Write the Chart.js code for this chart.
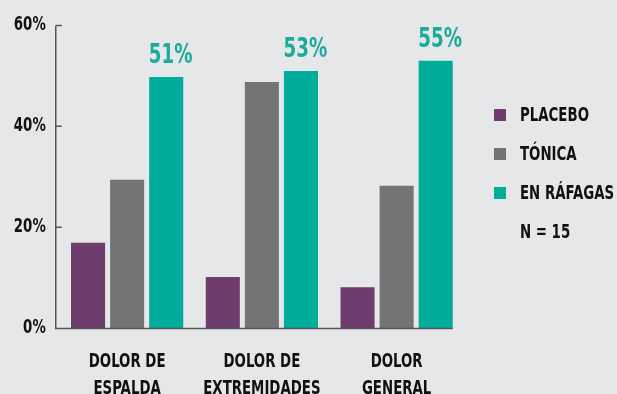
<!DOCTYPE html>
<html>
<head>
<meta charset="utf-8">
<script src="https://cdn.jsdelivr.net/npm/chart.js@4"></script>
<style>
    html, body { margin: 0; padding: 0; background: #e6e7e9; }
    #wrap { width: 617px; height: 394px; }
</style>
</head>
<body>
<div id="wrap"><canvas id="pain-chart"></canvas></div>
<script>
    'use strict';

    var categories = [
        ['DOLOR DE', 'ESPALDA'],
        ['DOLOR DE', 'EXTREMIDADES'],
        ['DOLOR', 'GENERAL'],
    ];
    var seriesNames = ['PLACEBO', 'TÓNICA', 'EN RÁFAGAS'];
    var dataPlacebo = [16.9, 10.1, 8.1];
    var dataTonica = [29.4, 48.8, 28.2];
    var dataRafagas = [49.8, 51.0, 53.0];
    var rafagasLabels = ['51%', '53%', '55%'];
    var yTicks = [0, 20, 40, 60];
    var sampleNote = 'N = 15';

    var colors = ['#6e3d6e', '#737475', '#00ad9b'];
    var fontFamily = '"DejaVu Sans Condensed", "DejaVu Sans", sans-serif';

    // squeeze all canvas text horizontally to get a condensed look
    const squeezeText = {
        id: 'squeezeText',
        beforeDraw(chart) {
            const ctx = chart.ctx;
            if (ctx._squeezed) return;
            const fill = ctx.fillText;
            ctx.fillText = function (text, x, y, maxWidth) {
                this.save();
                this.translate(x, y);
                this.scale(0.78, 1);
                if (maxWidth) {
                    fill.call(this, text, 0, 0, maxWidth / 0.78);
                } else {
                    fill.call(this, text, 0, 0);
                }
                this.restore();
            };
            ctx._squeezed = true;
        },
    };

    // axis lines with inward tick marks
    const axisLines = {
        id: 'axisLines',
        afterDatasetsDraw(chart) {
            const ctx = chart.ctx;
            const y = chart.scales.y;
            const area = chart.chartArea;
            const axisX = area.left - 4;
            const lastMeta = chart.getDatasetMeta(chart.data.datasets.length - 1);
            const lastBar = lastMeta.data[lastMeta.data.length - 1];
            const right = lastBar.x + lastBar.width / 2;
            const y0 = y.getPixelForValue(0);

            ctx.save();
            ctx.strokeStyle = '#555657';
            ctx.lineWidth = 1.5;
            ctx.beginPath();
            ctx.moveTo(axisX, y.getPixelForValue(60));
            ctx.lineTo(axisX, y0 + 0.5);
            ctx.lineTo(right, y0 + 0.5);
            yTicks.forEach(function (v) {
                if (v === 0) return;
                const py = y.getPixelForValue(v);
                ctx.moveTo(axisX, py);
                ctx.lineTo(axisX + 6, py);
            });
            ctx.stroke();

            // value labels over the last series
            ctx.fillStyle = '#1aab9b';
            ctx.font = 'bold 26px ' + fontFamily;
            ctx.textAlign = 'center';
            ctx.textBaseline = 'alphabetic';
            lastMeta.data.forEach(function (bar, i) {
                ctx.fillText(rafagasLabels[i], bar.x + 4.5, bar.y - 14);
            });
            ctx.restore();
        },
    };

    // legend drawn at the right side
    const sideLegend = {
        id: 'sideLegend',
        afterDraw(chart) {
            const ctx = chart.ctx;
            const left = 494;
            const top = 115;
            const step = 39;
            ctx.save();
            ctx.font = 'bold 19px ' + fontFamily;
            ctx.textAlign = 'left';
            ctx.textBaseline = 'middle';
            chart.data.datasets.forEach(function (ds, i) {
                const cy = top + i * step;
                ctx.fillStyle = ds.backgroundColor;
                ctx.fillRect(left, cy - 6, 12, 12);
                ctx.fillStyle = '#111';
                ctx.fillText(ds.label, left + 26, cy + 1);
            });
            ctx.fillStyle = '#111';
            ctx.fillText(sampleNote, left + 26, top + 3 * step + 1);
            ctx.restore();
        },
    };

    new Chart(document.getElementById('pain-chart'), {
        type: 'bar',
        data: {
            labels: categories,
            datasets: [
                { label: seriesNames[0], data: dataPlacebo, backgroundColor: colors[0] },
                { label: seriesNames[1], data: dataTonica, backgroundColor: colors[1] },
                { label: seriesNames[2], data: dataRafagas, backgroundColor: colors[2] },
            ],
        },
        options: {
            responsive: true,
            maintainAspectRatio: false,
            animation: false,
            categoryPercentage: 0.87,
            barPercentage: 0.872,
            layout: {
                padding: { top: 25.5, right: 153, left: 0, bottom: 0 },
            },
            scales: {
                x: {
                    grid: { display: false, drawTicks: false },
                    border: { display: false },
                    ticks: {
                        color: '#111',
                        padding: 21,
                        autoSkip: false,
                        maxRotation: 0,
                        minRotation: 0,
                        font: { family: fontFamily, size: 19, weight: 'bold', lineHeight: 1.42 },
                    },
                    afterFit: function (scale) {
                        scale.height = 66;
                    },
                },
                y: {
                    min: 0,
                    max: 60,
                    afterBuildTicks: function (scale) {
                        scale.ticks = yTicks.map(function (v) { return { value: v }; });
                    },
                    grid: { display: false, drawTicks: false },
                    border: { display: false },
                    ticks: {
                        color: '#111',
                        padding: 14,
                        font: { family: fontFamily, size: 19, weight: 'bold' },
                        callback: function (v) { return v + '%'; },
                    },
                    afterFit: function (scale) {
                        scale.width = 59.75;
                    },
                },
            },
            plugins: {
                legend: { display: false },
                tooltip: { enabled: false },
            },
        },
        plugins: [squeezeText, axisLines, sideLegend],
    });
</script>
</body>
</html>
